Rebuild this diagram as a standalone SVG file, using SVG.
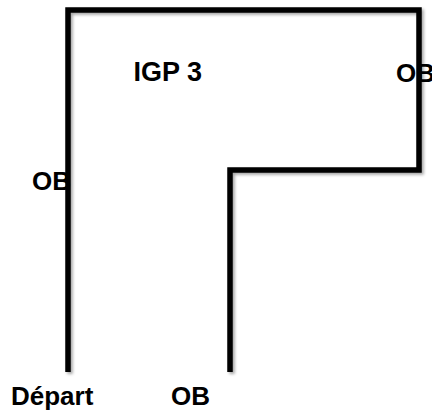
<svg xmlns="http://www.w3.org/2000/svg" width="432" height="414" viewBox="0 0 432 414">
  <style>
    .wall { fill: none; stroke: #000; stroke-width: 5.5; stroke-linejoin: miter; stroke-linecap: butt; }
    .lbl { font-family: "Liberation Sans", Arial, sans-serif; font-weight: bold; font-size: 26px; fill: #000; }
  </style>
  <defs>
    <filter id="shadow" x="-10%" y="-10%" width="120%" height="120%">
      <feDropShadow dx="2" dy="2" stdDeviation="1.5" flood-color="#000" flood-opacity="0.35"/>
    </filter>
  </defs>
  <rect width="432" height="414" fill="#fff"/>
  <g id="route">
    <path class="wall" filter="url(#shadow)" d="M68 372 V10 H419 V170 H230 V372"/>
  </g>
  <g id="labels">
    <text id="igp3" class="lbl" x="133.5" y="81" style="font-size:27px">IGP 3</text>
    <text id="ob-right" class="lbl" x="396" y="82">OB</text>
    <text id="ob-left" class="lbl" x="32" y="190">OB</text>
    <text id="depart" class="lbl" x="11" y="405">Départ</text>
    <text id="ob-bottom" class="lbl" x="171" y="405">OB</text>
  </g>
</svg>
